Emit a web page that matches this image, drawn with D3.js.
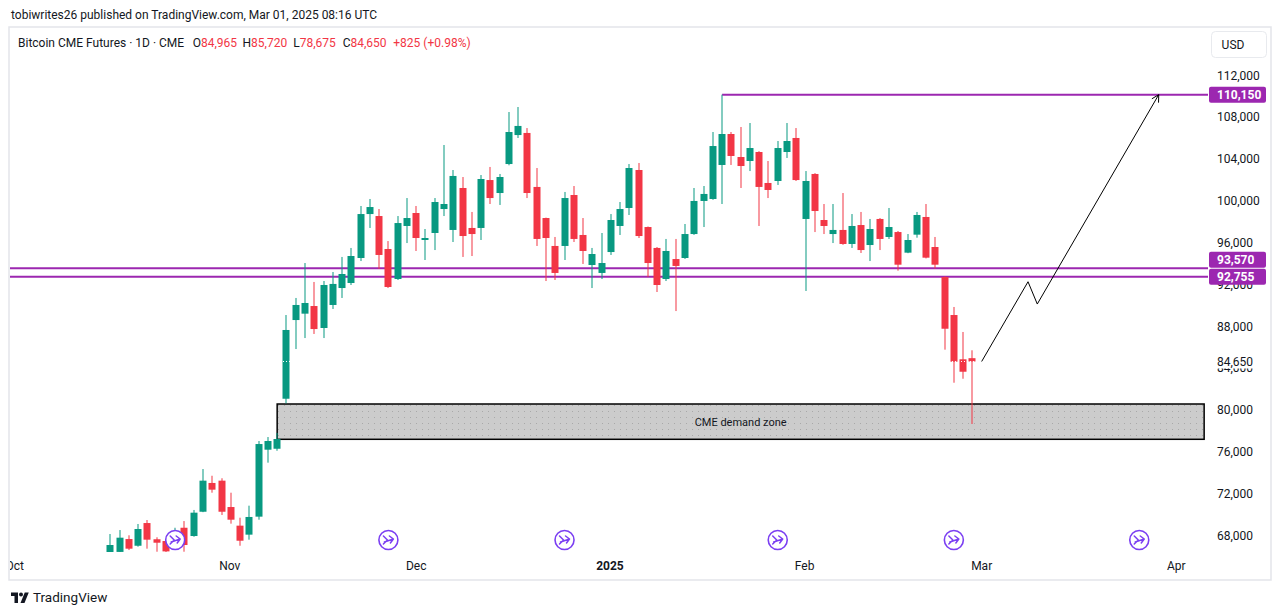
<!DOCTYPE html>
<html>
<head>
<meta charset="utf-8">
<script src="https://d3js.org/d3.v7.min.js"></script>
<style>
  html, body { margin: 0; padding: 0; background: #fff; }
  svg { display: block; font-family: Roboto, "Liberation Sans", sans-serif; }
</style>
</head>
<body>
<svg id="chart" width="1281" height="615"></svg>
<script>
// daily CME bitcoin futures, one candle per trading session (index 0..93)
var opens  = [66400,66450,67680,67040,69210,67660,67490,67400,68760,67970,
              70290,73040,73260,70740,68960,68100,69820,76220,76310,81090,
              88610,89220,89950,87850,90050,91670,92150,94540,98740,98550,
              95400,92530,97600,98840,96260,96930,99220,97220,101230,97410,
              97410,101990,100750,103520,106290,106490,101330,98360,95690,95690,
              100560,96740,93870,93110,95110,97600,99320,102950,97500,95500,
              92530,94440,94540,96830,99990,100180,103430,106390,104190,103810,
              104670,101710,101900,104670,106010,98270,102570,98170,96830,97220,
              95880,97690,95780,98270,96550,97020,95050,96770,98460,95590,
              92720,89090,84860,84965];
var highs  = [68160,68540,68040,69120,69500,67850,67600,68760,69400,70460,
              74370,73730,73490,72110,69720,70870,77050,77430,77820,89090,
              90720,94060,92250,92340,93200,94640,95500,99510,100180,99220,
              96160,98550,100270,99510,97310,100270,105340,102950,102280,98940,
              102470,103240,102570,108490,108970,106960,103140,98400,96550,100850,
              101420,98360,95500,96930,98740,99890,103520,103620,97550,95590,
              96360,96360,97790,101230,101420,106580,110150,106580,107060,107440,
              104750,103810,105720,107440,106960,102850,102650,99700,99700,100750,
              98740,98940,98270,98360,99320,97120,96830,98940,99700,96550,
              92800,89860,87470,85720];
var lows   = [66300,66300,66630,66950,66760,66470,66300,67000,66470,67900,
              70250,72110,69980,69150,67040,67620,69530,74980,76120,80650,
              85840,86890,87280,86890,89670,90720,91960,94250,97410,93490,
              91670,92440,95970,95210,94350,95300,98550,96070,94640,94730,
              96260,99700,99610,103400,106010,100270,95690,92340,92440,94350,
              96070,93970,91670,92530,94830,96740,98650,96450,92720,91290,
              92340,89470,94450,96750,97500,100100,99700,103430,101230,102850,
              97600,100270,101520,104100,101900,91390,97020,96830,95970,95800,
              95500,95020,94250,95300,96360,93330,95000,96480,94500,93520,
              85780,82620,83000,78675];
var closes = [67110,67810,66760,68640,67620,67330,66500,68200,67110,70200,
              73260,72400,70290,69530,67520,69790,76760,77050,77240,87660,
              90050,90240,87750,91960,92060,93010,94730,98740,99410,94830,
              91770,97880,98360,96450,96450,99890,99700,102380,96640,96830,
              102090,100270,102280,106580,107160,100750,96360,96450,93110,100270,
              96360,95210,94920,94060,98170,99220,103140,96640,94060,91960,
              95210,93780,96830,99990,100660,105240,106390,104290,103330,105050,
              101330,101040,105050,105720,101990,101900,99030,97600,97220,95880,
              97600,95300,97310,96360,97500,93900,96260,98650,94570,93900,
              87780,84630,83670,84650];

var priceTicks = [68000,72000,76000,80000,84000,88000,92000,96000,100000,104000,108000,112000];
var timeLabels = ["Oct","Nov","Dec","2025","Feb","Mar","Apr"];
var timeLabelIdx = [-10.3, 12.9, 33, 53.9, 74.9, 94, 115];

var levels = [110150, 93570, 92755];
var levelStartIdx = [66, null, null];
var lastPrice = 84650;
var zoneTop = 80586, zoneBottom = 77213;
var zoneIdx = [18, 118];
var eventIdx = [7, 30, 49, 72, 91, 111];
var arrowIdx = [94, 99, 100, 113.1];
var arrowPrice = [84650, 92270, 90140, 110150];

var legendValues = [["O","84,965"],["H","85,720"],["L","78,675"],["C","84,650"]];

var purple = "#9c27b0", up = "#089981", down = "#f23645", ink = "#131722";
var plot = {left: 10, right: 1208, top: 28, bottom: 552};

var svg = d3.select("#chart");
var x = d3.scaleLinear().domain([0, 93]).range([110.3, 972.4]);
var y = d3.scaleLinear().domain([68000, 112000]).range([535.7, 75.3]);

var defs = svg.append("defs");
defs.append("clipPath").attr("id", "plotclip")
    .append("rect")
    .attr("x", plot.left).attr("y", plot.top)
    .attr("width", plot.right - plot.left).attr("height", plot.bottom - plot.top);
defs.append("clipPath").attr("id", "axisclip")
    .append("rect")
    .attr("x", plot.left).attr("y", plot.bottom)
    .attr("width", plot.right - plot.left).attr("height", 30);
var pat = defs.append("pattern").attr("id", "dots")
    .attr("patternUnits", "userSpaceOnUse").attr("width", 6).attr("height", 6);
pat.append("rect").attr("width", 6).attr("height", 6).attr("fill", "#cccccc");
pat.append("rect").attr("x", 2).attr("y", 3).attr("width", 1).attr("height", 1).attr("fill", "#a9a9a9");

// header line
svg.append("text")
    .attr("x", 11).attr("y", 19)
    .attr("font-size", 12).attr("fill", ink)
    .text("tobiwrites26 published on TradingView.com, Mar 01, 2025 08:16 UTC");

// chart frame
svg.append("rect")
    .attr("x", 9).attr("y", 27).attr("width", 1262).attr("height", 553)
    .attr("fill", "none").attr("stroke", "#e3e5ea").attr("stroke-width", 1.5);

var g = svg.append("g").attr("clip-path", "url(#plotclip)");

// demand zone
g.append("rect")
    .attr("x", x(zoneIdx[0])).attr("y", y(zoneTop))
    .attr("width", x(zoneIdx[1]) - x(zoneIdx[0]))
    .attr("height", y(zoneBottom) - y(zoneTop))
    .attr("fill", "url(#dots)").attr("stroke", "#000").attr("stroke-width", 1.5);
g.append("text")
    .attr("x", x((zoneIdx[0] + zoneIdx[1]) / 2)).attr("y", y((zoneTop + zoneBottom) / 2))
    .attr("dy", "0.35em").attr("text-anchor", "middle")
    .attr("font-size", 11).attr("fill", ink)
    .text("CME demand zone");

// horizontal levels
g.selectAll("line.level")
    .data(levels)
    .enter()
    .append("line")
    .classed("level", true)
    .attr("x1", function(d, i) { return levelStartIdx[i] === null ? plot.left : x(levelStartIdx[i]); })
    .attr("x2", plot.right)
    .attr("y1", function(d) { return y(d); })
    .attr("y2", function(d) { return y(d); })
    .attr("stroke", purple).attr("stroke-width", 2);

// candles
var candles = opens.map(function(o, i) {
    return { i: i, o: o, h: highs[i], l: lows[i], c: closes[i] };
});
var cSel = g.selectAll("g.candle")
    .data(candles)
    .enter()
    .append("g")
    .classed("candle", true)
    .attr("fill", function(d) { return d.c >= d.o ? up : down; });
cSel.append("rect")
    .attr("x", function(d) { return Math.round(x(d.i)) - 0.5; })
    .attr("width", 1)
    .attr("y", function(d) { return y(d.h); })
    .attr("height", function(d) { return y(d.l) - y(d.h); });
cSel.append("rect")
    .attr("x", function(d) { return Math.round(x(d.i)) - 3.5; })
    .attr("width", 7)
    .attr("y", function(d) { return y(Math.max(d.o, d.c)); })
    .attr("height", function(d) { return Math.max(1, Math.abs(y(d.o) - y(d.c))); });

// last price dotted line
g.append("line")
    .attr("x1", plot.left).attr("x2", plot.right)
    .attr("y1", y(lastPrice)).attr("y2", y(lastPrice))
    .attr("stroke", "#fff").attr("stroke-width", 1).attr("stroke-dasharray", "1,2");

// projection arrow
var pts = arrowIdx.map(function(d, i) { return [x(d), y(arrowPrice[i])]; });
g.append("path")
    .attr("d", d3.line()(pts))
    .attr("fill", "none").attr("stroke", "#000").attr("stroke-width", 1);
var p1 = pts[pts.length - 2], p2 = pts[pts.length - 1];
var ang = Math.atan2(p2[1] - p1[1], p2[0] - p1[0]);
var head = [ang + Math.PI - 0.5, ang + Math.PI + 0.5].map(function(a) {
    return [p2[0] + 8 * Math.cos(a), p2[1] + 8 * Math.sin(a)];
});
g.append("path")
    .attr("d", d3.line()([head[0], p2, head[1]]))
    .attr("fill", "none").attr("stroke", "#000").attr("stroke-width", 1);

// event markers
var ev = g.selectAll("g.event")
    .data(eventIdx)
    .enter()
    .append("g")
    .classed("event", true)
    .attr("transform", function(d) { return "translate(" + x(d) + ",540)"; });
ev.append("circle").attr("r", 9.5)
    .attr("fill", "#fff").attr("stroke", "#7b3ff2").attr("stroke-width", 1.6);
ev.append("path")
    .attr("d", "M-5,-4 L-1,0 L-5,4 M-4,2 L5,-1 M1,-4 L5,-1 L2,3")
    .attr("fill", "none").attr("stroke", "#7b3ff2").attr("stroke-width", 1.5)
    .attr("stroke-linecap", "round").attr("stroke-linejoin", "round");

// legend
var leg = svg.append("g").attr("font-size", 12);
leg.append("text").attr("x", 18).attr("y", 47).attr("fill", ink)
    .text("Bitcoin CME Futures \u00b7 1D \u00b7 CME");
var legX = [192.7, 242.5, 293.3, 342.7];
legendValues.forEach(function(p, i) {
    var t = leg.append("text").attr("x", legX[i]).attr("y", 47);
    t.append("tspan").attr("fill", ink).text(p[0]);
    t.append("tspan").attr("fill", down).text(p[1]);
});
leg.append("text").attr("x", 393.3).attr("y", 47).attr("fill", down).text("+825 (+0.98%)");

// price axis
svg.append("rect")
    .attr("x", 1211.5).attr("y", 31.5).attr("width", 55).attr("height", 26).attr("rx", 4)
    .attr("fill", "#fff").attr("stroke", "#e8eaee");
svg.append("text").attr("x", 1233).attr("y", 44.5).attr("dy", "0.35em")
    .attr("text-anchor", "middle").attr("font-size", 12).attr("fill", ink).text("USD");

svg.selectAll("text.ptick")
    .data(priceTicks)
    .enter()
    .append("text")
    .classed("ptick", true)
    .attr("x", 1217).attr("y", function(d) { return y(d); }).attr("dy", "0.35em")
    .attr("font-size", 12).attr("fill", ink)
    .text(function(d) { return d3.format(",")(d); });

// last price label
svg.append("rect")
    .attr("x", 1210).attr("y", y(lastPrice) - 7).attr("width", 56).attr("height", 14)
    .attr("fill", "#fff");
svg.append("text")
    .attr("x", 1217).attr("y", y(lastPrice)).attr("dy", "0.35em")
    .attr("font-size", 12).attr("fill", ink)
    .text(d3.format(",")(lastPrice));

// level labels, pushed apart like the platform does
var labelY = levels.map(function(d) { return y(d); });
var order = d3.range(levels.length).sort(function(a, b) { return labelY[b] - labelY[a]; });
for (var k = 1; k < order.length; k++) {
    var prev = labelY[order[k - 1]];
    if (prev - labelY[order[k]] < 17) labelY[order[k]] = prev - 17;
}
var lab = svg.selectAll("g.lvl")
    .data(levels)
    .enter()
    .append("g")
    .classed("lvl", true)
    .attr("transform", function(d, i) { return "translate(1209," + labelY[i] + ")"; });
lab.append("rect")
    .attr("x", 0).attr("y", -8).attr("width", 57).attr("height", 16).attr("rx", 2)
    .attr("fill", purple);
lab.append("text")
    .attr("x", 8).attr("dy", "0.35em")
    .attr("font-size", 12).attr("font-weight", "bold").attr("fill", "#fff")
    .text(function(d) { return d3.format(",")(d); });

// time axis
svg.append("g").attr("clip-path", "url(#axisclip)")
    .selectAll("text")
    .data(timeLabels)
    .enter()
    .append("text")
    .attr("x", function(d, i) { return x(timeLabelIdx[i]); })
    .attr("y", 570)
    .attr("text-anchor", "middle")
    .attr("font-size", 12)
    .attr("font-weight", function(d) { return d === "2025" ? "bold" : "normal"; })
    .attr("fill", ink)
    .text(function(d) { return d; });

// footer logo
var logo = svg.append("g").attr("transform", "translate(11,591) scale(0.5)").attr("fill", ink);
logo.append("path").attr("d", "M14 24H7V10H0V3h14v21z");
logo.append("circle").attr("cx", 20).attr("cy", 7).attr("r", 4);
logo.append("path").attr("d", "M27 24h-8l8.5-21h8L27 24z");
svg.append("text").attr("x", 33).attr("y", 597).attr("dy", "0.35em")
    .attr("font-size", 13.5).attr("fill", ink).text("TradingView");
</script>
</body>
</html>
